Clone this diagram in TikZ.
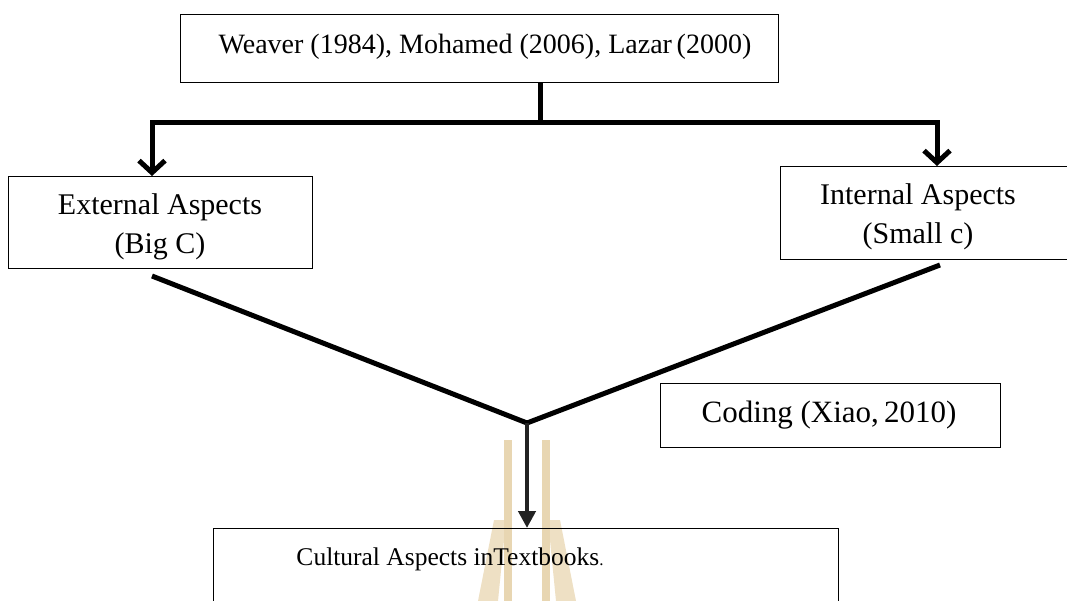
\documentclass[tikz,border=0pt]{standalone}
\usepackage{fontspec}
\setmainfont{Liberation Serif}
\usetikzlibrary{arrows.meta}
\definecolor{wm}{RGB}{238,224,196}
\definecolor{wmd}{RGB}{232,214,178}
\definecolor{darkarrow}{RGB}{34,34,34}
\begin{document}
\begin{tikzpicture}[x=1pt,y=-1pt,
  box/.style={draw, line width=1.4pt, inner sep=0pt, anchor=north west},
  lbl/.style={inner sep=0pt, align=center, font=\fontsize{30}{39}\selectfont},
  conn/.style={line width=5pt},
  arr/.style={line width=5pt, -{Straight Barb[length=12pt,width=26pt]}},
  darr/.style={line width=4.5pt, draw=darkarrow, -{Triangle[length=17pt,width=17pt,fill=darkarrow]}},
  ]
\useasboundingbox (0,0) rectangle (1067,601);
% watermark
\fill[wm] (478,601) -- (494,520) -- (506,520) -- (498,601) -- cycle;
\fill[wm] (576,601) -- (560,520) -- (548,520) -- (556,601) -- cycle;
\fill[wmd] (504,440) rectangle (512,601);
\fill[wmd] (542,440) rectangle (550,601);
% boxes
\node[box, minimum width=598pt, minimum height=68pt] (top) at (180,14) {};
\node[lbl, font=\fontsize{28}{33}\selectfont] (toptxt) at (485,47) {Weaver (1984), Mohamed (2006), Lazar\,(2000)};
\node[box, minimum width=304pt, minimum height=92pt] (ext) at (8,176) {};
\node[lbl] (exttxt) at (160,227) {External Aspects\\(Big C)};
\node[box, minimum width=320pt, minimum height=93pt] (int) at (780,166) {};
\node[lbl] (inttxt) at (918,217) {Internal Aspects\\(Small c)};
\node[box, minimum width=340pt, minimum height=64pt] (cod) at (660,383) {};
\node[lbl, font=\fontsize{31}{36}\selectfont] (codtxt) at (829,415) {Coding (Xiao,\,2010)};
\node[box, minimum width=625pt, minimum height=120pt] (cul) at (213,528) {};
\node[lbl, font=\fontsize{25.5}{30}\selectfont] (cultxt) at (450,559) {Cultural Aspects inTextbooks{\fontsize{17}{17}\selectfont.}};
% connectors
\coordinate (s) at (540,123);
\coordinate (jL) at (152,123);
\coordinate (jR) at (937,123);
\coordinate (v) at (527,423);
\coordinate (eL) at (152,276);
\coordinate (eR) at (940,265);
\draw[conn] (top.south -| s) -- (s);
\draw[arr] (s) -| (ext.north -| jL);
\draw[arr] (s) -| (int.north -| jR);
\draw[conn] (eL) -- (v) -- (eR);
\draw[darr] (v) -- (cul.north -| v);
\end{tikzpicture}
\end{document}
